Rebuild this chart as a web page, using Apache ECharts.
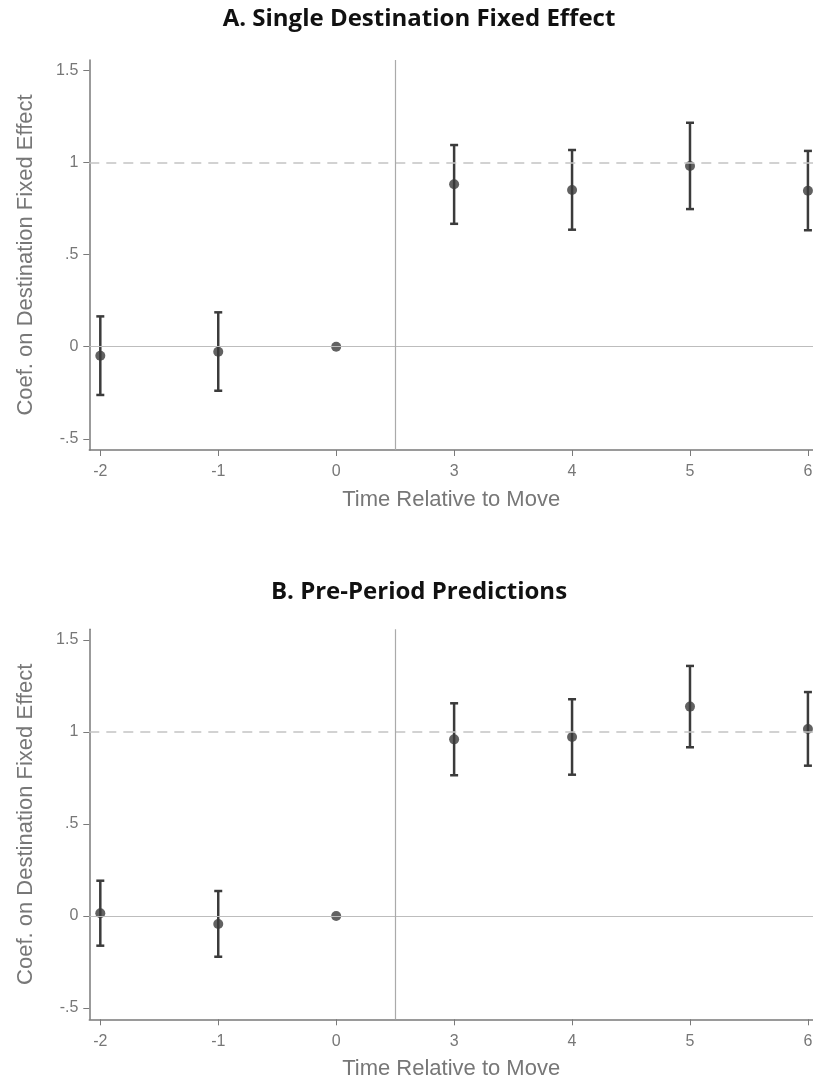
<!DOCTYPE html>
<html>
<head>
<meta charset="utf-8">
<script src="https://cdn.jsdelivr.net/npm/echarts@6/dist/echarts.min.js"></script>
<style>
html,body{margin:0;padding:0;background:#fff;}
#c{width:813px;height:1082px;}
</style>
</head>
<body>
<div id="c"></div>
<script>
// x categories (time relative to move)
const timeLabels = ['-2', '-1', '0', '3', '4', '5', '6'];
const yTickValues = [-0.5, 0, 0.5, 1, 1.5];
const yTickLabels = ['-.5', '0', '.5', '1', '1.5'];

// Panel A: Single Destination Fixed Effect
const coefA = [-0.049, -0.027, 0, 0.883, 0.852, 0.982, 0.848];
const lowA  = [-0.262, -0.239, null, 0.668, 0.636, 0.748, 0.633];
const highA = [0.165, 0.187, null, 1.096, 1.069, 1.217, 1.064];

// Panel B: Pre-Period Predictions
const coefB = [0.015, -0.043, 0, 0.960, 0.973, 1.138, 1.016];
const lowB  = [-0.161, -0.221, null, 0.765, 0.768, 0.917, 0.817];
const highB = [0.192, 0.136, null, 1.156, 1.178, 1.359, 1.217];

const titles = ['A. Single Destination Fixed Effect', 'B. Pre-Period Predictions'];
const xName = 'Time Relative to Move';
const yName = 'Coef. on Destination Fixed Effect';

const chart = echarts.init(document.getElementById('c'), null, {renderer: 'canvas'});

const dark = '#3b3b3b';
const axisGray = '#7a7a7a';
const labelGray = '#777777';

const gridTops = [60, 629.3];
const gridH = 390;

function xAxisDef(i) {
  return {
    type: 'value', gridIndex: i, min: -0.0933, max: 6.043,
    name: xName, nameLocation: 'middle', nameGap: 39,
    nameTextStyle: {fontFamily: 'Liberation Sans', fontSize: 22, color: labelGray},
    axisLine: {show: true, onZero: false, lineStyle: {color: axisGray, width: 1.5}},
    axisTick: {show: true, length: 6, lineStyle: {color: axisGray, width: 1}, customValues: [0,1,2,3,4,5,6]},
    axisLabel: {show: true, margin: 14, fontFamily: 'Liberation Sans', fontSize: 16, color: labelGray,
      customValues: [0,1,2,3,4,5,6],
      formatter: v => timeLabels[Math.round(v)]},
    splitLine: {show: false}
  };
}
function yAxisDef(i) {
  return {
    type: 'value', gridIndex: i, min: -0.561, max: 1.558,
    name: yName, nameLocation: 'middle', nameGap: 52,
    nameTextStyle: {fontFamily: 'Liberation Sans', fontSize: 22, color: labelGray},
    axisLine: {show: true, onZero: false, lineStyle: {color: axisGray, width: 1.5}},
    axisTick: {show: true, length: 6, lineStyle: {color: axisGray, width: 1}, customValues: yTickValues},
    axisLabel: {show: true, margin: 11, fontFamily: 'Liberation Sans', fontSize: 16, color: labelGray,
      customValues: yTickValues,
      formatter: v => { const k = yTickValues.findIndex(t => Math.abs(t - v) < 1e-6); return k >= 0 ? yTickLabels[k] : ''; }},
    splitLine: {show: false}
  };
}

function errSeries(i, low, high) {
  const data = low.map((l, k) => [k, l, high[k]]).filter(d => d[1] !== null);
  return {
    type: 'custom', xAxisIndex: i, yAxisIndex: i, z: 3,
    data: data,
    encode: {x: 0, y: [1, 2]},
    renderItem: function (params, api) {
      const x = api.value(0);
      const lo = api.coord([x, api.value(1)]);
      const hi = api.coord([x, api.value(2)]);
      const cap = 4;
      const style = {stroke: dark, lineWidth: 2.5, fill: null};
      return {
        type: 'group',
        children: [
          {type: 'line', shape: {x1: lo[0], y1: lo[1], x2: hi[0], y2: hi[1]}, style: style},
          {type: 'line', shape: {x1: lo[0] - cap, y1: lo[1], x2: lo[0] + cap, y2: lo[1]}, style: style},
          {type: 'line', shape: {x1: hi[0] - cap, y1: hi[1], x2: hi[0] + cap, y2: hi[1]}, style: style}
        ]
      };
    }
  };
}
function pointSeries(i, coef) {
  return {
    type: 'scatter', xAxisIndex: i, yAxisIndex: i, z: 4,
    symbol: 'circle', symbolSize: 10,
    itemStyle: {color: dark},
    data: coef.map((v, k) => [k, v]),
    markLine: {
      silent: true, symbol: 'none', label: {show: false}, animation: false,
      data: [
        {yAxis: 0, lineStyle: {color: '#bdbdbd', width: 1.2, type: 'solid'}},
        {yAxis: 1, lineStyle: {color: '#c4c4c4', width: 1.5, type: [10, 7]}},
        {xAxis: 2.5, lineStyle: {color: '#aaaaaa', width: 1.2, type: 'solid'}}
      ]
    }
  };
}

const option = {
  animation: false,
  backgroundColor: '#ffffff',
  title: [
    {text: titles[0], left: 414, top: 2, textAlign: 'center',
     textStyle: {fontFamily: 'Open Sans', fontWeight: 'bold', fontSize: 24, color: '#111'}},
    {text: titles[1], left: 414, top: 575, textAlign: 'center',
     textStyle: {fontFamily: 'Open Sans', fontWeight: 'bold', fontSize: 24, color: '#111'}}
  ],
  grid: [
    {left: 89.3, top: gridTops[0], right: 0, height: gridH, outerBoundsMode: 'none', containLabel: false},
    {left: 89.3, top: gridTops[1], right: 0, height: gridH, outerBoundsMode: 'none', containLabel: false}
  ],
  xAxis: [xAxisDef(0), xAxisDef(1)],
  yAxis: [yAxisDef(0), yAxisDef(1)],
  series: [
    errSeries(0, lowA, highA), pointSeries(0, coefA),
    errSeries(1, lowB, highB), pointSeries(1, coefB)
  ]
};
chart.setOption(option);
</script>
</body>
</html>
